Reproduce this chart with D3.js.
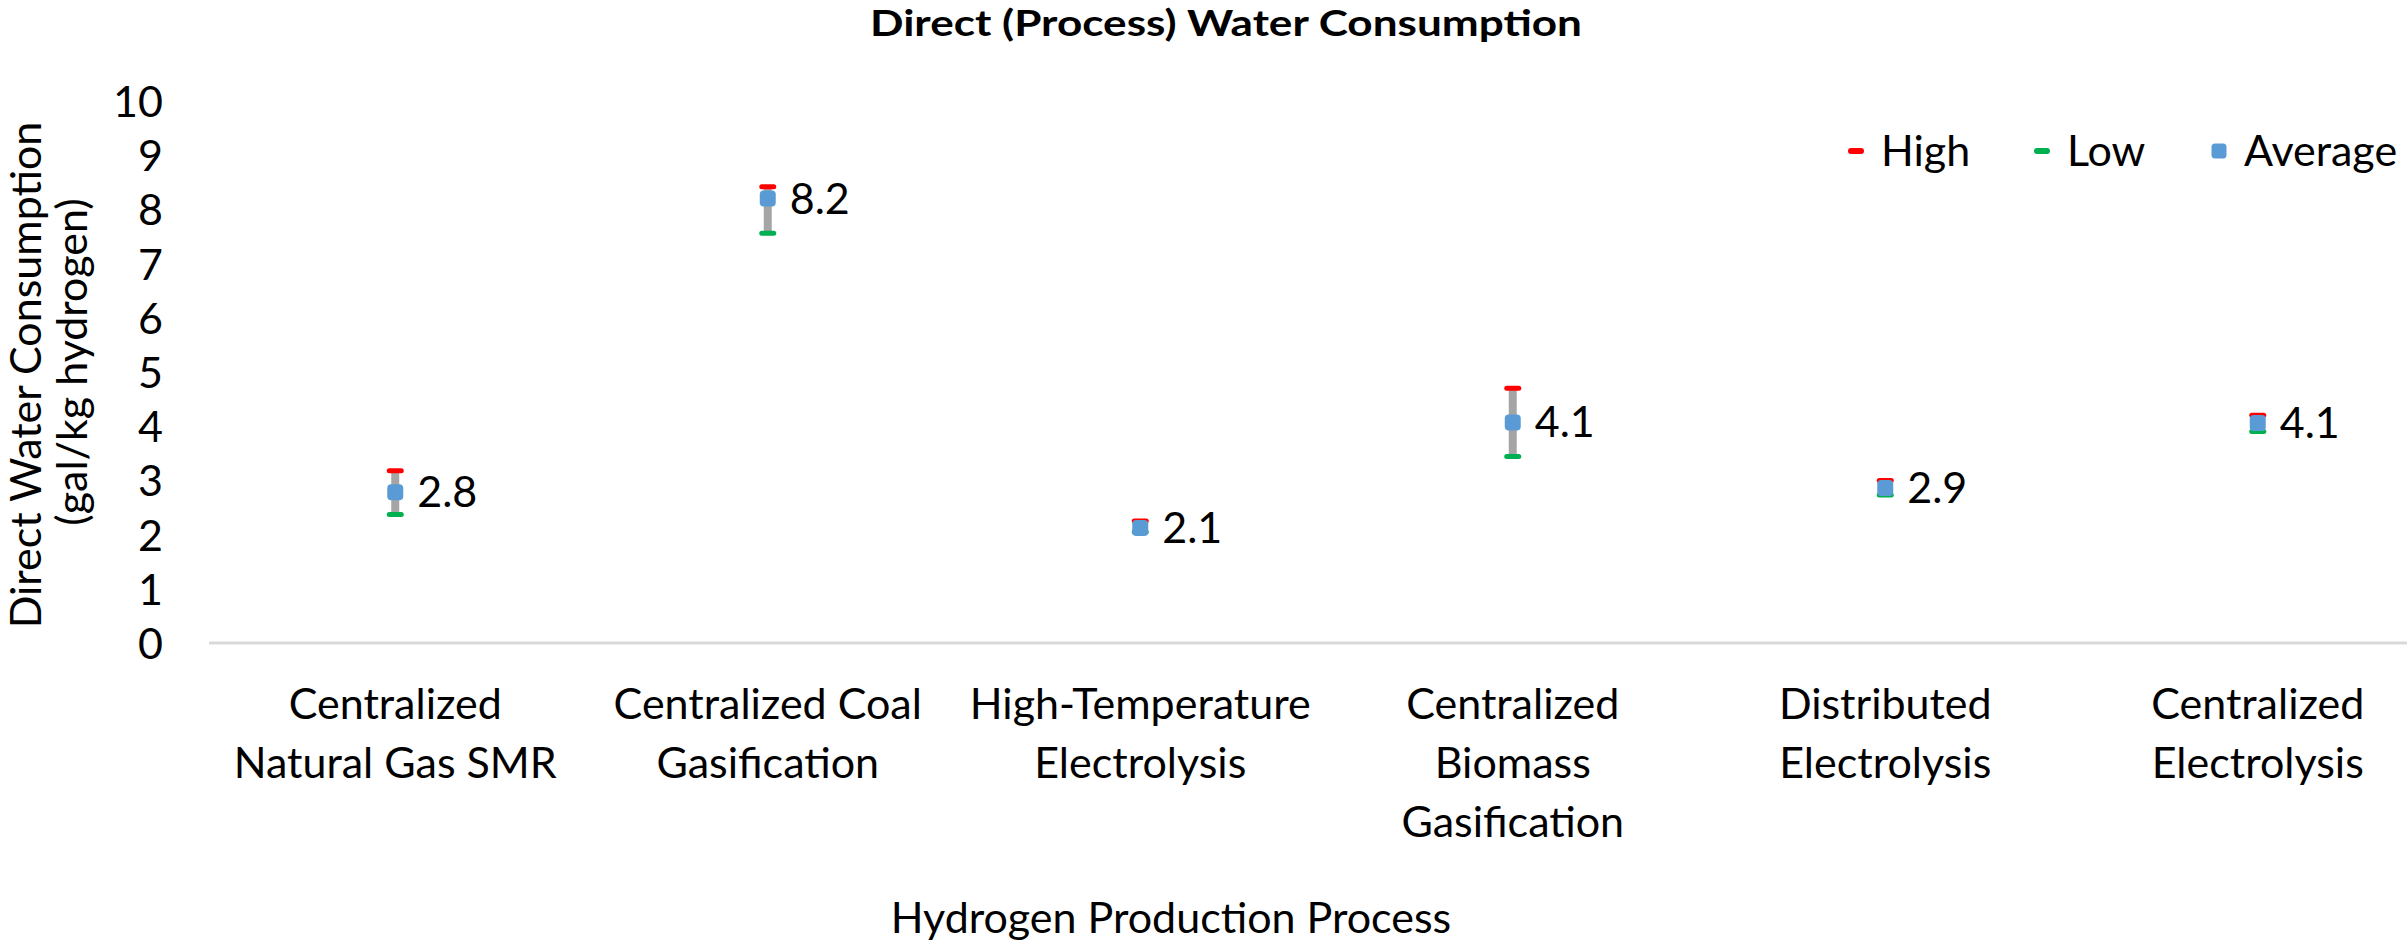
<!DOCTYPE html>
<html>
<head>
<meta charset="utf-8">
<script src="https://cdn.jsdelivr.net/npm/d3@7"></script>
<style>
  html, body { margin: 0; padding: 0; background: #fff; }
  svg { display: block; }
  text { font-family: Lato, "Open Sans", sans-serif; fill: #000; }
</style>
</head>
<body>
<svg id="chart" width="2407" height="941"></svg>
<script>
// ---- data ----
const categories = [
  "Centralized Natural Gas SMR",
  "Centralized Coal Gasification",
  "High-Temperature Electrolysis",
  "Centralized Biomass Gasification",
  "Distributed Electrolysis",
  "Centralized Electrolysis"
];
const categoryLines = [
  ["Centralized", "Natural Gas SMR"],
  ["Centralized Coal", "Gasification"],
  ["High-Temperature", "Electrolysis"],
  ["Centralized", "Biomass", "Gasification"],
  ["Distributed", "Electrolysis"],
  ["Centralized", "Electrolysis"]
];
const highValues    = [3.18, 8.42, 2.25, 4.70, 3.00, 4.20];
const lowValues     = [2.37, 7.56, 2.05, 3.44, 2.73, 3.90];
const averageValues = [2.78, 8.20, 2.12, 4.07, 2.86, 4.06];
const yTicks = [0, 1, 2, 3, 4, 5, 6, 7, 8, 9, 10];
const seriesNames = ["High", "Low", "Average"];

// ---- layout ----
const svg = d3.select("#chart");
const plotLeft = 209, bandW = 372.5;
const x = d3.scaleBand().domain(categories).range([plotLeft, plotLeft + bandW * categories.length]).padding(0);
const y = d3.scaleLinear().domain([0, 10]).range([643, 101]);
const cx = c => x(c) + x.bandwidth() / 2;

const colors = { High: "#ff0000", Low: "#00b050", Average: "#5b9bd5", bar: "#a5a5a5", axis: "#d9d9d9" };
const FS = 43;

// title
svg.append("text").attr("x", 1226).attr("y", 36).attr("text-anchor", "middle")
  .style("font-weight", "bold").style("font-size", "37px")
  .attr("textLength", 712).attr("lengthAdjust", "spacingAndGlyphs")
  .text("Direct (Process) Water Consumption");

// y ticks (labels only)
const yAxis = d3.axisLeft(y).tickValues(yTicks).tickSize(0).tickPadding(0).tickFormat(d3.format("d"));
const yg = svg.append("g").attr("transform", "translate(163,0)").call(yAxis);
yg.select(".domain").remove();
yg.selectAll("text").style("font-size", FS + "px").style("font-family", "Lato, 'Open Sans', sans-serif")
  .attr("fill", "#000").attr("dy", "0.36em");

// x axis line
svg.append("line").attr("x1", plotLeft).attr("x2", 2407).attr("y1", y(0)).attr("y2", y(0))
  .attr("stroke", colors.axis).attr("stroke-width", 3);

// category labels
categories.forEach((c, i) => {
  const t = svg.append("text").attr("text-anchor", "middle").style("font-size", FS + "px");
  categoryLines[i].forEach((ln, j) => {
    t.append("tspan").attr("x", cx(c)).attr("y", 719 + j * 59).text(ln);
  });
});

// axis titles
svg.append("text").attr("x", 1171).attr("y", 933).attr("text-anchor", "middle")
  .style("font-size", FS + "px").text("Hydrogen Production Process");
svg.append("text").attr("transform", "translate(41,375) rotate(-90)").attr("text-anchor", "middle")
  .style("font-size", FS + "px").text("Direct Water Consumption");
svg.append("text").attr("transform", "translate(87,362) rotate(-90)").attr("text-anchor", "middle")
  .style("font-size", FS + "px").text("(gal/kg hydrogen)");

// error bars
const g = svg.append("g");
g.selectAll("line.err").data(categories).join("line").attr("class", "err")
  .attr("x1", cx).attr("x2", cx)
  .attr("y1", (c, i) => y(lowValues[i])).attr("y2", (c, i) => y(highValues[i]))
  .attr("stroke", colors.bar).attr("stroke-width", 8);

const dashW = 17, dashH = 5;
g.selectAll("rect.high").data(categories).join("rect").attr("class", "high")
  .attr("x", c => cx(c) - dashW / 2).attr("y", (c, i) => y(highValues[i]) - dashH / 2)
  .attr("width", dashW).attr("height", dashH).attr("rx", 2.5).attr("fill", colors.High);
g.selectAll("rect.low").data(categories).join("rect").attr("class", "low")
  .attr("x", c => cx(c) - dashW / 2).attr("y", (c, i) => y(lowValues[i]) - dashH / 2)
  .attr("width", dashW).attr("height", dashH).attr("rx", 2.5).attr("fill", colors.Low);
const mk = 16;
g.selectAll("rect.avg").data(categories).join("rect").attr("class", "avg")
  .attr("x", c => cx(c) - mk / 2).attr("y", (c, i) => y(averageValues[i]) - mk / 2)
  .attr("width", mk).attr("height", mk).attr("rx", 4).attr("fill", colors.Average);

// data labels
g.selectAll("text.lbl").data(categories).join("text").attr("class", "lbl")
  .attr("x", c => cx(c) + 22).attr("y", (c, i) => y(averageValues[i]) + 15)
  .style("font-size", FS + "px")
  .text((c, i) => d3.format(".1f")(averageValues[i]));

// legend
const legendX = [1856, 2042, 2219];
const lg = svg.append("g");
seriesNames.forEach((s, i) => {
  if (s === "Average") {
    lg.append("rect").attr("x", legendX[i] - 7.5).attr("y", 151 - 7.5).attr("width", 15).attr("height", 15)
      .attr("rx", 3.5).attr("fill", colors[s]);
  } else {
    lg.append("rect").attr("x", legendX[i] - 8).attr("y", 151 - 3).attr("width", 16).attr("height", 6)
      .attr("rx", 3).attr("fill", colors[s]);
  }
  lg.append("text").attr("x", legendX[i] + 25).attr("y", 166).style("font-size", FS + "px").text(s);
});
</script>
</body>
</html>
